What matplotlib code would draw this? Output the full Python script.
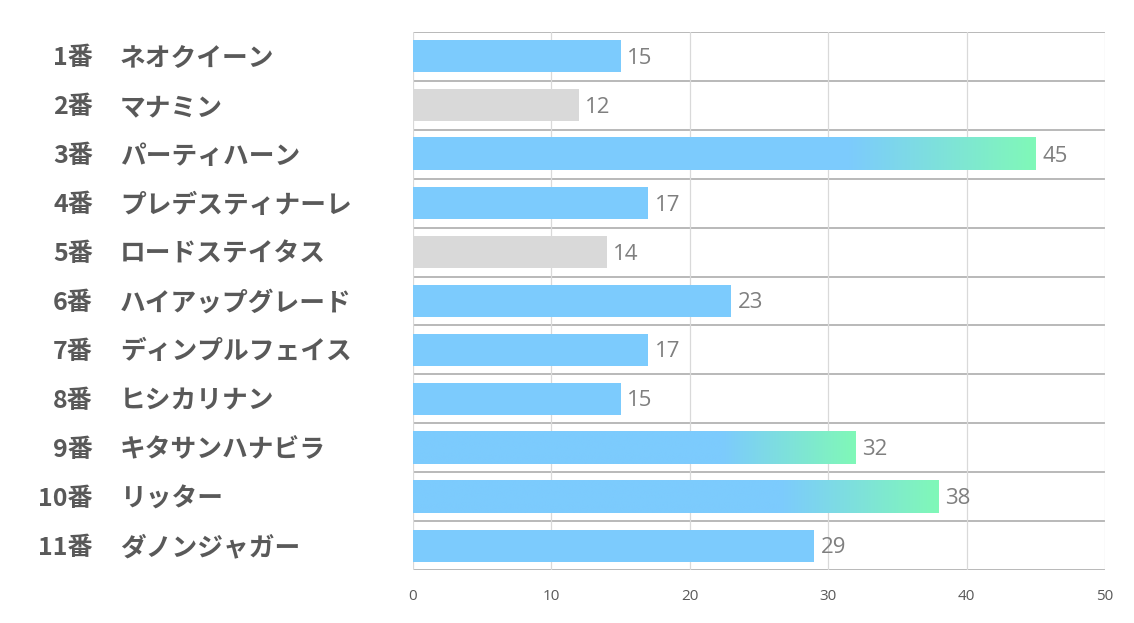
import numpy as np
import matplotlib.pyplot as plt
from matplotlib.colors import LinearSegmentedColormap

plt.rcParams['font.family'] = ['Noto Sans CJK JP', 'DejaVu Sans']

# --- data ---
numbers = ["1番", "2番", "3番", "4番", "5番", "6番", "7番", "8番", "9番", "10番", "11番"]
names = ["ネオクイーン", "マナミン", "パーティハーン", "プレデスティナーレ", "ロードステイタス",
         "ハイアップグレード", "ディンプルフェイス", "ヒシカリナン", "キタサンハナビラ", "リッター", "ダノンジャガー"]
values = [15, 12, 45, 17, 14, 23, 17, 15, 32, 38, 29]
style = ["blue", "gray", "grad", "blue", "gray", "blue", "blue", "blue", "grad", "grad", "blue"]

BLUE = "#7ccbfd"
GREEN = "#80f8b8"
GRAY = "#d9d9d9"
TEXT = "#595959"

W, H = 1134, 623
fig = plt.figure(figsize=(W / 100, H / 100), dpi=100)
ax = fig.add_axes([413 / W, 1 - 570 / H, (1105 - 413) / W, (570 - 32) / H])

n = len(values)
ypos = np.arange(n)
bar_h = 0.655
# colour ramp: flat blue for the first 70% of the bar, then blend to green
t = np.linspace(0, 1, 200)
ramp = np.clip((t - 0.7) / 0.3, 0, 1)
grad_cmap = LinearSegmentedColormap.from_list("g", [BLUE, GREEN])

for y, v, s in zip(ypos, values, style):
    color = GRAY if s == "gray" else BLUE
    ax.barh(y, v, height=bar_h, color=color, zorder=2)
    if s == "grad":
        ax.imshow(ramp[np.newaxis, :], extent=(0, v, y + bar_h / 2, y - bar_h / 2),
                  cmap=grad_cmap, aspect="auto", interpolation="bilinear", zorder=3)
    ax.text(v + 0.45, y + 0.04, str(v), va="center", ha="left", fontsize=16,
            color="#7f7f7f", family=["Open Sans", "DejaVu Sans"])

ax.set_xlim(0, 50)
ax.set_ylim(n - 0.5, -0.5)
ax.set_xticks(range(0, 51, 10))
ax.set_yticks([])
ax.grid(axis="x", color="#d9d9d9", linewidth=0.9, zorder=0)
for b in np.arange(-0.5, n + 0.5, 1):
    ax.axhline(b, color="#a6a6a6", linewidth=1.1, zorder=1)
for sp in ax.spines.values():
    sp.set_visible(False)
ax.tick_params(axis="x", length=0, pad=14, labelsize=11, labelcolor=TEXT)
for lab in ax.get_xticklabels():
    lab.set_family(["Open Sans", "DejaVu Sans"])

# labels on the left
for y, num, name in zip(ypos, numbers, names):
    yf = 1 - (34 + (y + 0.5) * (570 - 32) / n) / H
    fig.text(93 / W, yf, num, ha="right", va="center", fontsize=18,
             fontweight="bold", color=TEXT)
    fig.text(120 / W, yf, name, ha="left", va="center", fontsize=18.5,
             fontweight="bold", color=TEXT)

fig.savefig("out.png", dpi=100, facecolor="white")
